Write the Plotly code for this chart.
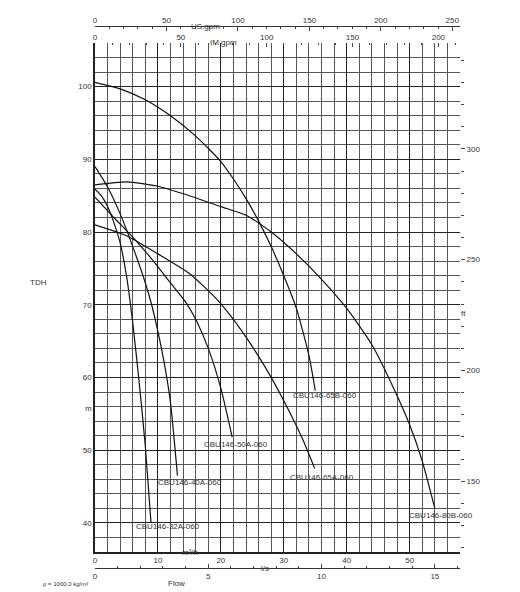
import plotly.graph_objects as go

# pump curves: flow in m3/h, head in m
curves = {
    'CBU146-32A-060': ([0, 1, 2, 3, 4, 5, 6, 7, 8, 8.9],
                       [85.9, 85.0, 83.5, 81.3, 78.5, 74.0, 67.5, 59.5, 50.5, 40]),
    'CBU146-40A-060': ([0, 2, 4, 6, 8, 9, 10, 11, 12, 13.1],
                       [89, 86.2, 82.5, 78, 73, 70, 66.3, 62, 56.5, 46.5]),
    'CBU146-50A-060': ([0, 3, 6, 9, 12, 14.3, 16, 18, 20, 21.8],
                       [84.8, 82, 79.3, 76.3, 73, 70.5, 68, 64, 58.5, 51.8]),
    'CBU146-65A-060': ([0, 5, 10, 15, 19.3, 23, 27, 30, 33, 34.9],
                       [81, 79.5, 77, 74.3, 70.8, 66.8, 61.5, 56.8, 51.5, 47.5]),
    'CBU146-65B-060': ([0, 4, 8, 12, 16, 20, 22, 24, 26, 28, 30, 32, 34, 35],
                       [100.6, 99.7, 98.2, 96, 93.2, 89.7, 87.3, 84.6, 81.5, 78, 74, 69.5, 63, 58.2]),
    'CBU146-80B-060': ([0, 5, 10, 15, 20, 24, 28, 32, 36, 40, 44, 48, 50, 52, 54],
                       [86.5, 86.9, 86.3, 85, 83.5, 82.3, 80, 77, 73.5, 69.5, 64.5, 57.5, 53.5, 48.5, 42]),
}
label_pos = {
    'CBU146-32A-060': (11.6, 39.5),
    'CBU146-40A-060': (15.1, 45.5),
    'CBU146-50A-060': (22.4, 50.8),
    'CBU146-65A-060': (36, 46.2),
    'CBU146-65B-060': (36.6, 57.5),
    'CBU146-80B-060': (55, 41),
}

XMAX = 58
YMIN, YMAX = 36, 106
font = dict(family='Liberation Sans, Arial', size=8, color='#333')

fig = go.Figure()
for name, (x, y) in curves.items():
    fig.add_trace(go.Scatter(x=x, y=y, mode='lines', line=dict(color='#111', width=1.2,
                  shape='spline', smoothing=0.6), name=name, showlegend=False))
    lx, ly = label_pos[name]
    fig.add_annotation(x=lx, y=ly, text=name, showarrow=False, font=font)

# dummy traces so the extra axes are drawn
for xa, ya in [('x2', 'y'), ('x3', 'y'), ('x4', 'y'), ('x', 'y2')]:
    fig.add_trace(go.Scatter(x=[None], y=[None], xaxis=xa, yaxis=ya, showlegend=False, hoverinfo='skip'))

dom_x = [87 / 520, 452 / 520]
dom_y = [1 - 544 / 592, 1 - 35 / 592]
grid = dict(showgrid=True, gridcolor='#222', gridwidth=1.3,
            minor=dict(showgrid=True, gridcolor='#555', gridwidth=0.8, ticks=''),
            showline=True, linecolor='#222', linewidth=1.5, mirror=False,
            zeroline=False, tickfont=font, ticks='', automargin=False)
extra = dict(showgrid=False, zeroline=False, tickfont=font, automargin=False)

fig.update_layout(
    width=520, height=592, plot_bgcolor='white', paper_bgcolor='white',
    margin=dict(l=0, r=0, t=0, b=0, autoexpand=False),
    xaxis=dict(range=[0, XMAX], domain=dom_x, dtick=10, minor_dtick=2, **grid),
    yaxis=dict(range=[YMIN, YMAX], domain=dom_y, dtick=10, minor_dtick=2, **grid),
    # l/s below
    xaxis2=dict(range=[0, XMAX / 3.6], overlaying='x', anchor='free', position=1 - 560 / 592,
                side='bottom', dtick=5, showline=True, linecolor='#333', ticks='inside',
                ticklen=4, minor=dict(dtick=1, ticks='inside', ticklen=2), **extra),
    # IM gpm on top of plot
    xaxis3=dict(range=[0, XMAX / 0.2728], overlaying='x', anchor='y', side='top', dtick=50,
                ticks='inside', ticklen=4, minor=dict(dtick=10, ticks='inside', ticklen=2), **extra),
    # US gpm further up
    xaxis4=dict(range=[0, XMAX / 0.2271], overlaying='x', anchor='free', position=1 - 18 / 592,
                side='top', dtick=50, showline=True, linecolor='#333', ticks='inside', ticklen=4,
                minor=dict(dtick=10, ticks='inside', ticklen=2), **extra),
    yaxis2=dict(range=[YMIN * 3.2808, YMAX * 3.2808], overlaying='y', side='right', anchor='x',
                dtick=50, ticks='outside', ticklen=4,
                minor=dict(dtick=10, ticks='outside', ticklen=3), **extra),
)

texts = [
    ('TDH', 20, 275), ('m', 75, 407), ('ft', 460, 305), ('Flow', 158, 582),
    ('ρ = 1000.0 kg/m³', 33, 581), ('m³/h', 182, 551), ('l/s', 257, 567),
    ('US.gpm', 197, 12), ('IM.gpm', 215, 28),
]
for t, px, py in texts:
    fig.add_annotation(x=px / 520, y=1 - py / 592, xref='paper', yref='paper', text=t,
                       showarrow=False, font=dict(font, size=6 if t.startswith('ρ') else 8))

fig.write_html("out.html")
